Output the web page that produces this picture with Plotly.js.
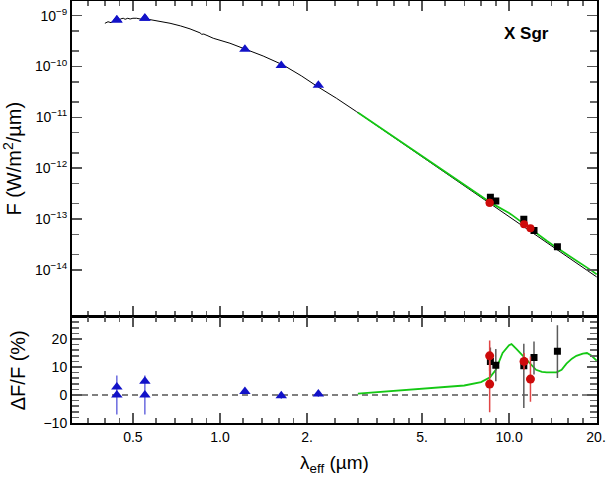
<!DOCTYPE html>
<html>
<head>
<meta charset="utf-8">
<script src="https://cdn.plot.ly/plotly-3.0.1.min.js"></script>
<style>html,body{margin:0;padding:0;background:#fff;}#plot{width:606px;height:479px;}</style>
</head>
<body>
<div id="plot"></div>
<script>
// ---------- data ----------
// black model spectrum (top panel)
const specWl = [0.400, 0.410, 0.420, 0.434, 0.445, 0.455, 0.463, 0.470, 0.480, 0.489, 0.500, 0.515, 0.530, 0.545, 0.558, 0.588, 0.630, 0.672, 0.730, 0.788, 0.853, 0.865, 0.880, 0.948, 1.083, 1.220, 1.411, 1.655, 1.916, 2.160, 2.530, 2.970, 3.5, 4.0, 5.0, 6.0, 7.0, 8.0, 9.0, 10.0, 11.0, 12.0, 14.0, 16.0, 18.0, 20.1];
const specF  = [7.08e-10, 7.6e-10, 7.3e-10, 8.2e-10, 8.0e-10, 8.7e-10, 8.9e-10, 8.5e-10, 8.9e-10, 8.6e-10, 8.9e-10, 8.9e-10, 8.6e-10, 8.8e-10, 8.6e-10, 8.2e-10, 7.7e-10, 7.1e-10, 6.3e-10, 5.5e-10, 4.6e-10, 4.3e-10, 4.35e-10, 3.6e-10, 2.87e-10, 2.2e-10, 1.61e-10, 1.07e-10, 6.5e-11, 4.13e-11, 2.37e-11, 1.29e-11, 6.78e-12, 4.02e-12, 1.68e-12, 8.22e-13, 4.49e-13, 2.66e-13, 1.68e-13, 1.113e-13, 7.67e-14, 5.45e-14, 2.98e-14, 1.77e-14, 1.11e-14, 7.23e-15];

// green model (top panel flux) and its residual (bottom panel, %)
const modelWl = [3.0, 3.5, 4.0, 5.0, 6.0, 7.0, 8.0, 8.6, 9.0, 9.5, 10.0, 10.2, 10.6, 11.2, 12.0, 12.4, 13.0, 13.5, 14.6, 15.2, 15.8, 16.5, 17.1, 18.0, 18.6, 19.3, 20.1];
const modelF  = [1.246e-11, 6.85e-12, 4.08e-12, 1.715e-12, 8.44e-13, 4.64e-13, 2.78e-13, 2.13e-13, 1.83e-13, 1.563e-13, 1.311e-13, 1.217e-13, 1.032e-13, 8.13e-14, 6.02e-14, 5.22e-14, 4.31e-14, 3.72e-14, 2.73e-14, 2.35e-14, 2.07e-14, 1.773e-14, 1.555e-14, 1.274e-14, 1.122e-14, 9.63e-15, 8.12e-15];
const modelRes = [0.5, 1.0, 1.5, 2.1, 2.7, 3.4, 4.6, 6.3, 9.0, 15.0, 17.8, 18.2, 16.5, 13.8, 10.5, 9.0, 8.3, 8.1, 8.1, 9.0, 11.2, 13.0, 14.0, 14.8, 15.0, 14.0, 12.3];

// photometry (blue triangles)
const photWl  = [0.44, 0.44, 0.55, 0.55, 1.22, 1.63, 2.19];
const photF   = [8.2e-10, 8.2e-10, 8.9e-10, 8.9e-10, 2.18e-10, 1.05e-10, 4.26e-11];
const photRes = [2.9, 0.0, 4.9, 0.0, 1.3, -0.3, 0.4];
const photErr = [0, 7.0, 0, 7.0, 1.0, 1.0, 1.0];

// black squares
const sqWl  = [8.62, 9.0, 11.25, 12.2, 14.7];
const sqF   = [2.67e-13, 2.26e-13, 9.9e-14, 5.9e-14, 2.85e-14];
const sqRes = [12.0, 10.6, 10.5, 13.4, 15.6];
const sqErrPlus  = [5.0, 5.8, 7.8, 5.7, 9.3];
const sqErrMinus = [5.0, 5.7, 15.1, 6.1, 9.5];

// red circles
const rcWl  = [8.57, 8.57, 11.27, 11.86];
const rcF   = [2.09e-13, 2.09e-13, 7.9e-14, 6.6e-14];
const rcRes = [14.0, 3.9, 12.0, 5.7];
const rcErr = [5.5, 10.1, 3.0, 8.1];

// ticks
const xMajor = [0.5, 1, 2, 5, 10, 20];
const xMajorText = ['0.5', '1.0', '2.', '5.', '10.0', '20.'];
const xMinor = [0.35, 0.4, 0.45, 0.6, 0.7, 0.8, 0.9, 1.2, 1.4, 1.6, 1.8, 2.5, 3, 3.5, 4, 4.5, 6, 7, 8, 9, 12, 14, 16, 18];
const yMajor = [1e-9, 1e-10, 1e-11, 1e-12, 1e-13, 1e-14];
const yMajorText = ['10<sup>−9</sup>', '10<sup>−10</sup>', '10<sup>−11</sup>', '10<sup>−12</sup>', '10<sup>−13</sup>', '10<sup>−14</sup>'];
const yMinor = [2e-14, 5e-14, 2e-13, 5e-13, 2e-12, 5e-12, 2e-11, 5e-11, 2e-10, 5e-10];

// ---------- styles ----------
const FONT = 'Liberation Sans, Arial, Helvetica, sans-serif';
const blue = 'rgb(18,18,200)';
const red = 'rgb(205,10,10)';
const green = 'rgb(20,200,20)';

const traces = [
  {x: specWl, y: specF, xaxis: 'x', yaxis: 'y', mode: 'lines', line: {color: 'black', width: 1}, hoverinfo: 'skip'},
  {x: modelWl, y: modelF, xaxis: 'x', yaxis: 'y', mode: 'lines', line: {color: green, width: 1.8}, hoverinfo: 'skip'},
  {x: sqWl, y: sqF, xaxis: 'x', yaxis: 'y', mode: 'markers', marker: {symbol: 'square', size: 7, color: 'black'}},
  {x: rcWl, y: rcF, xaxis: 'x', yaxis: 'y', mode: 'markers', marker: {symbol: 'circle', size: 8, color: red}},
  {x: photWl, y: photF, xaxis: 'x', yaxis: 'y', mode: 'markers', marker: {symbol: 'triangle-up', size: 10, color: blue}},

  {x: modelWl, y: modelRes, xaxis: 'x2', yaxis: 'y2', mode: 'lines', line: {color: green, width: 1.8}},
  {x: sqWl, y: sqRes, xaxis: 'x2', yaxis: 'y2', mode: 'markers', marker: {symbol: 'square', size: 7, color: 'black'},
   error_y: {type: 'data', symmetric: false, array: sqErrPlus, arrayminus: sqErrMinus, color: 'rgb(90,90,90)', thickness: 1.5, width: 0}},
  {x: rcWl, y: rcRes, xaxis: 'x2', yaxis: 'y2', mode: 'markers', marker: {symbol: 'circle', size: 9, color: red},
   error_y: {type: 'data', array: rcErr, color: 'rgb(225,70,70)', thickness: 1.5, width: 0}},
  {x: photWl, y: photRes, xaxis: 'x2', yaxis: 'y2', mode: 'markers', marker: {symbol: 'triangle-up', size: 10, color: blue},
   error_y: {type: 'data', array: photErr, color: 'rgb(70,70,215)', thickness: 1.2, width: 0}}
];

const xr = [Math.log10(0.3078), Math.log10(20.15)];
const split = 0.2524;
const split2 = split - 1 / 422;

function xAxis(anchor, labels) {
  return {
    type: 'log', range: xr, anchor: anchor, domain: [0, 1],
    tickmode: 'array', tickvals: xMajor, ticktext: xMajorText, showticklabels: labels,
    ticks: 'inside', ticklen: 10, tickwidth: 1.5, tickcolor: '#555',
    minor: {tickmode: 'array', tickvals: xMinor, ticks: 'inside', ticklen: 5, tickwidth: 1.5, tickcolor: '#666', showgrid: false},
    mirror: 'ticks', showline: true, linecolor: 'black', linewidth: 2,
    showgrid: false, zeroline: false,
    tickfont: {family: FONT, size: 14, color: 'black'}
  };
}

const layout = {
  width: 606, height: 479,
  margin: {l: 72, r: 9, t: 1, b: 56},
  paper_bgcolor: 'white', plot_bgcolor: 'white',
  showlegend: false,
  font: {family: FONT, color: 'black'},
  xaxis: xAxis('y', false),
  xaxis2: Object.assign(xAxis('y2', true), {
    matches: 'x',
    title: {text: 'λ<sub>eff</sub> (µm)', font: {family: FONT, size: 19, color: 'black'}, standoff: 12}
  }),
  yaxis: {
    type: 'log', domain: [split, 1], range: [-14.919, -8.711], anchor: 'x',
    tickmode: 'array', tickvals: yMajor, ticktext: yMajorText,
    ticks: 'inside', ticklen: 10, tickwidth: 1.5, tickcolor: '#555',
    minor: {tickmode: 'array', tickvals: yMinor, ticks: 'inside', ticklen: 7, tickwidth: 1.5, tickcolor: '#666', showgrid: false},
    mirror: 'ticks', showline: true, linecolor: 'black', linewidth: 2,
    showgrid: false, zeroline: false,
    tickfont: {family: FONT, size: 14, color: 'black'},
    title: {text: 'F (W/m<sup>2</sup>/µm)', font: {family: FONT, size: 20, color: 'black'}, standoff: 8}
  },
  yaxis2: {
    domain: [0, split2], range: [-10, 27.7], anchor: 'x2',
    tickmode: 'linear', tick0: 0, dtick: 10,
    ticks: 'inside', ticklen: 10, tickwidth: 1.5, tickcolor: '#555',
    minor: {tick0: 0, dtick: 2, ticks: 'inside', ticklen: 7, tickwidth: 1.5, tickcolor: '#666', showgrid: false},
    mirror: 'ticks', showline: true, linecolor: 'black', linewidth: 2,
    showgrid: false, zeroline: false,
    tickfont: {family: FONT, size: 14, color: 'black'},
    title: {text: 'ΔF/F (%)', font: {family: FONT, size: 20, color: 'black'}, standoff: 12}
  },
  shapes: [
    {type: 'line', xref: 'x2 domain', x0: 0, x1: 1, yref: 'y2', y0: 0, y1: 0, line: {color: 'black', width: 1.2, dash: '6px,4px'}, layer: 'below'}
  ],
  annotations: [
    {text: '<b>X Sgr</b>', xref: 'paper', yref: 'paper', x: 0.8656, y: 0.924, xanchor: 'center', yanchor: 'middle',
     showarrow: false, font: {family: FONT, size: 17, color: 'black'}}
  ]
};

Plotly.newPlot('plot', traces, layout, {staticPlot: true, displayModeBar: false});
</script>
</body>
</html>
